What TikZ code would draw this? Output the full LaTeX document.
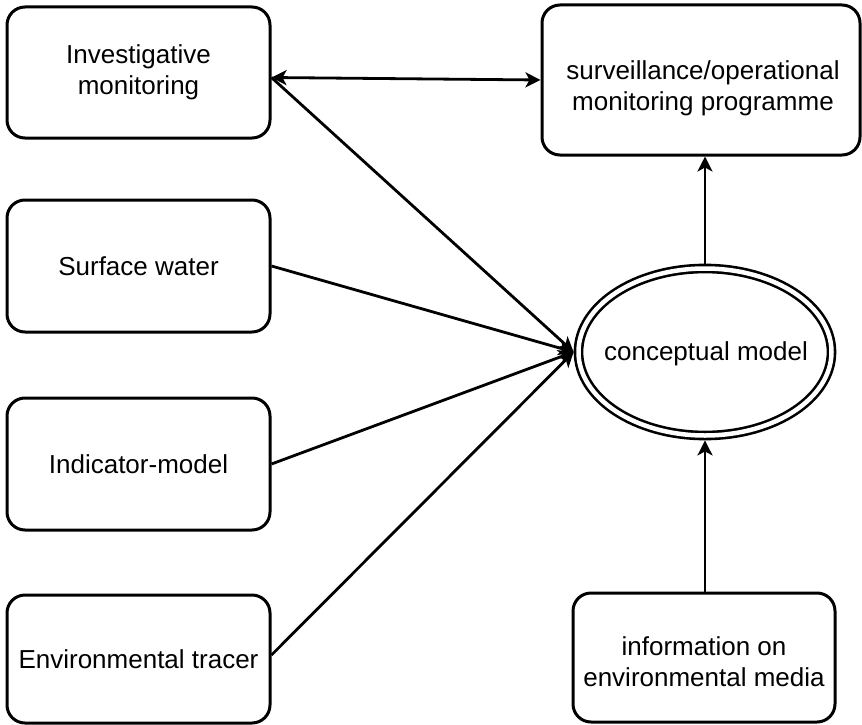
\documentclass[tikz,border=0pt]{standalone}
\usepackage{fontspec}
\setmainfont{Liberation Sans}
\usetikzlibrary{arrows.meta,shapes.geometric}
\begin{document}
\begin{tikzpicture}[x=1pt,y=-1pt,
  box/.style={draw, line width=3pt, rounded corners=18pt, inner sep=0pt, outer sep=1.5pt, align=center,
     font=\fontsize{26}{31}\selectfont},
  lbl/.style={inner sep=0pt, align=center, font=\fontsize{26}{31}\selectfont},
  arr/.style={line width=2.8pt, -{Stealth[length=15pt,width=15pt,inset=4pt]}},
  darr/.style={line width=2.8pt, {Stealth[length=15pt,width=15pt,inset=4pt]}-{Stealth[length=15pt,width=15pt,inset=4pt]}}]
\useasboundingbox (0,0) rectangle (862,725);
\node[box, minimum width=263pt, minimum height=131pt] (inv) at (138.5,72.5) {Investigative\\monitoring};
\node[box, minimum width=263pt, minimum height=132pt] (surf) at (138.5,266) {Surface water};
\node[box, minimum width=263pt, minimum height=132pt] (ind) at (138.5,464) {Indicator-model};
\node[box, minimum width=263pt, minimum height=128pt] (trc) at (138.5,659) {Environmental tracer};
\node[box, minimum width=318pt, minimum height=150pt] (surv) at (701,80) {};
\node[lbl] (survt) at (703,88) {surveillance/operational\\monitoring programme};
\node[box, minimum width=262pt, minimum height=129pt] (info) at (704,657.5) {};
\node[lbl] (infot) at (704,662) {information on\\environmental media};
\node[ellipse, draw, line width=2.6pt, double, double distance=4.5pt, minimum width=253pt, minimum height=167pt,
      inner sep=0pt, outer sep=4.9pt] (cm) at (705,352) {};
\node[lbl] (cmt) at (706,354) {conceptual model};
\coordinate (invp) at ([yshift=-5pt]inv.east);
\draw[darr] (invp) -- (surv.west);
\draw[arr] (invp) -- (cm.west);
\draw[arr] (surf.east) -- (cm.west);
\draw[arr] (ind.east) -- (cm.west);
\draw[arr] ([yshift=4pt]trc.east) -- (cm.west);
\draw[arr] (cm.north) -- (cm.north |- surv.south);
\draw[arr] (cm.south |- info.north) -- (cm.south);
\end{tikzpicture}
\end{document}
